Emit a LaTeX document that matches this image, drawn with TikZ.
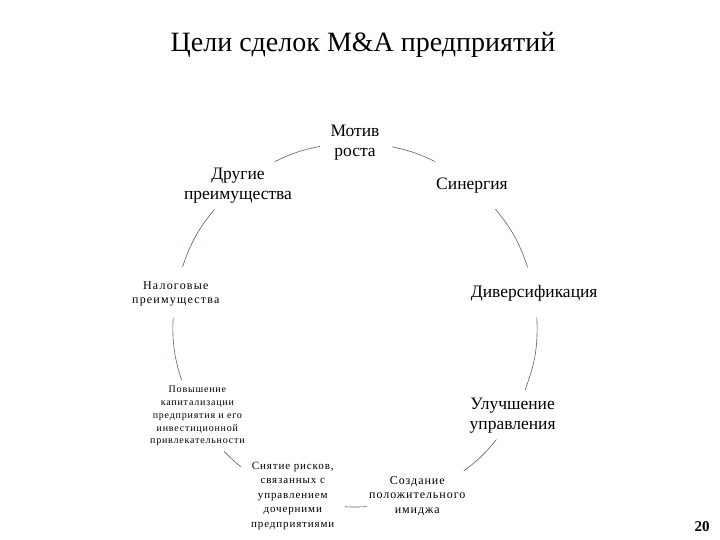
\documentclass[tikz,border=0pt]{standalone}
\usepackage{fontspec}
\setmainfont{Liberation Serif}
\usepackage{xcolor}
\usetikzlibrary{calc}
\definecolor{arcgray}{RGB}{80,98,128}

\tikzset{
  goalbig/.style={align=center, inner sep=6pt, font=\fontsize{17.5}{20}\selectfont},
  goalsmall/.style={align=center, inner sep=6pt, font=\fontsize{11}{14.5}\selectfont\addfontfeature{LetterSpace=8}},
  goaltiny/.style={align=center, inner sep=5pt, font=\fontsize{10}{12.8}\selectfont\addfontfeature{LetterSpace=8}},
  cycarc/.style={draw=arcgray, line width=0.6pt}
}

\begin{document}
\begin{tikzpicture}[x=1pt, y=1pt]
            \useasboundingbox (-355,-215) rectangle (365,325);

            % Title
            \node[font=\fontsize{28}{32}\selectfont] (title) at (8,280) {Цели сделок M\&A предприятий};

            % Centre of the cycle
            \coordinate (c) at (0,0);

            % Goals round the cycle
            \node[goalbig] (motiv) at (90:182) {Мотив\\роста};
            \node[goalbig] (sinerg) at (50:182) {Синергия};
            \node[goalbig] (divers) at (10:182) {Диверсификация};
            \node[goalbig] (uprav) at (-30:182) {Улучшение\\управления};
            \node[goalsmall, font=\fontsize{12}{14.5}\selectfont\addfontfeature{LetterSpace=8}] (imidzh) at (-70:182) {Создание\\положительного\\имиджа};
            \node[goalsmall] (riski) at (-110:182) {Снятие рисков,\\связанных с\\управлением\\дочерними\\предприятиями};
            \node[goaltiny] (kapital) at (-150:182) {Повышение\\капитализации\\предприятия и его\\инвестиционной\\привлекательности};
            \node[goalsmall, font=\fontsize{12}{14}\selectfont\addfontfeature{LetterSpace=10}] (nalog) at (170:182) {Налоговые\\преимущества};
            \node[goalbig] (drugie) at (130:182) {Другие\\преимущества};

            % Arcs between the goals
            \draw[cycarc] ($(c)!1!-11.7:(motiv.center)$) to[bend left=7.2] ($(c)!1!13.9:(sinerg.center)$);
            \draw[cycarc] ($(c)!1!-10.5:(sinerg.center)$) to[bend left=10.5] ($(c)!1!8.5:(divers.center)$);
            \draw[cycarc] ($(c)!1!-7.5:(divers.center)$) to[bend left=11.7] ($(c)!1!9.1:(uprav.center)$);
            \draw[cycarc] ($(c)!1!-9:(uprav.center)$) to[bend left=7.15] ($(c)!1!16.7:(imidzh.center)$);
            \draw[cycarc] ($(c)!1!-16.2:(imidzh.center)$) to[bend left=3.45] ($(c)!1!16.9:(riski.center)$);
            \draw[cycarc] ($(c)!1!-18.9:(riski.center)$) to[bend left=3.55] ($(c)!1!14:(kapital.center)$);
            \draw[cycarc] ($(c)!1!-12.3:(kapital.center)$) to[bend left=10.1] ($(c)!1!7.5:(nalog.center)$);
            \draw[cycarc] ($(c)!1!-8.6:(nalog.center)$) to[bend left=10.4] ($(c)!1!10.6:(drugie.center)$);
            \draw[cycarc] ($(c)!1!-13.9:(drugie.center)$) to[bend left=7.5] ($(c)!1!11.1:(motiv.center)$);

            % Page number
            \node[font=\fontsize{15}{17}\selectfont\bfseries] (page) at (347,-202) {20};
        \end{tikzpicture}
\end{document}
